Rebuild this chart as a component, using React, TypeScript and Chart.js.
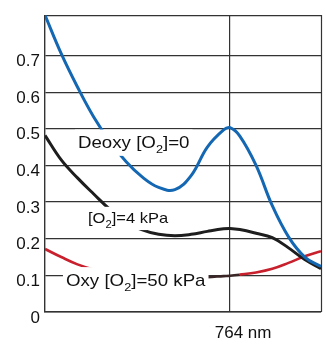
import React, { useEffect, useRef } from 'react';
import { Chart, registerables } from 'chart.js';

Chart.register(...registerables);

// Wavelength (nm)
const wavelengths = [650, 660, 670, 680, 690, 700, 710, 720, 730, 740, 750, 760, 764, 770, 780, 790, 800, 810, 820];
// Deoxy [O2]=0
const deoxy = [0.81, 0.705, 0.614, 0.532, 0.465, 0.41, 0.368, 0.34, 0.334, 0.372, 0.45, 0.497, 0.503, 0.48, 0.4, 0.29, 0.205, 0.15, 0.124];
// [O2]=4 kPa
const lowO2 = [0.482, 0.415, 0.366, 0.322, 0.28, 0.248, 0.224, 0.212, 0.208, 0.212, 0.22, 0.227, 0.228, 0.225, 0.215, 0.203, 0.175, 0.143, 0.118];
// Oxy [O2]=50 kPa
const oxy = [0.172, 0.15, 0.13, 0.116, 0.106, 0.1, 0.097, 0.095, 0.094, 0.094, 0.095, 0.098, 0.099, 0.102, 0.108, 0.118, 0.134, 0.152, 0.166];

const yTickValues = [0, 0.1, 0.2, 0.3, 0.4, 0.5, 0.6, 0.7];
const xTickValues = [764];
const xTickLabels = ['764 nm'];

type Part = { text: string; sub?: boolean };
const labelParts: Part[][] = [
  [{ text: 'Deoxy [O' }, { text: '2', sub: true }, { text: ']=0' }],
  [{ text: '[O' }, { text: '2', sub: true }, { text: ']=4 kPa' }],
  [{ text: 'Oxy [O' }, { text: '2', sub: true }, { text: ']=50 kPa' }],
];
const labelNm = [670.3, 676.5, 662.9];
const labelVal = [0.447, 0.242, 0.0715];
const labelSize = [17, 15, 17];

const FONT = "'Liberation Sans', Arial, sans-serif";
const GRID = '#333333';

function drawParts(ctx: CanvasRenderingContext2D, parts: Part[], fs: number, draw: boolean) {
  let cx = 0;
  for (const p of parts) {
    const size = p.sub ? fs * 0.68 : fs;
    ctx.font = `${size}px ${FONT}`;
    if (draw) ctx.fillText(p.text, cx, p.sub ? fs * 0.28 : 0);
    cx += ctx.measureText(p.text).width;
  }
  return cx;
}

const framePlugin = {
  id: 'frame',
  beforeDatasetsDraw(chart: any) {
    const { ctx, chartArea } = chart;
    ctx.save();
    ctx.strokeStyle = GRID;
    ctx.lineWidth = 1.2;
    ctx.beginPath();
    ctx.moveTo(chartArea.left, chartArea.top + 0.5);
    ctx.lineTo(chartArea.right + 0.5, chartArea.top + 0.5);
    ctx.lineTo(chartArea.right + 0.5, chartArea.bottom);
    ctx.stroke();
    ctx.restore();
  },
  afterDatasetsDraw(chart: any) {
    const { ctx } = chart;
    const xs = chart.scales.x;
    const ys = chart.scales.y;
    const scaleX = 1.1;
    labelParts.forEach((parts, i) => {
      const fs = labelSize[i];
      const x = xs.getPixelForValue(labelNm[i]);
      const base = ys.getPixelForValue(labelVal[i]);
      ctx.save();
      ctx.textBaseline = 'alphabetic';
      ctx.textAlign = 'left';
      const w = drawParts(ctx, parts, fs, false) * scaleX;
      ctx.fillStyle = '#ffffff';
      ctx.fillRect(x - 3, base - fs * 1.1, w + 6, fs * 1.55);
      ctx.translate(x, base);
      ctx.scale(scaleX, 1);
      ctx.fillStyle = '#111111';
      drawParts(ctx, parts, fs, true);
      ctx.restore();
    });
  },
};

export default function App() {
  const ref = useRef<HTMLCanvasElement>(null);
  useEffect(() => {
    document.body.style.margin = '0';
    const ctx = ref.current!.getContext('2d')!;
    const mk = (d: number[]) => wavelengths.map((x, i) => ({ x, y: d[i] }));
    const chart = new Chart(ctx, {
      type: 'line',
      data: {
        datasets: [
          {
            data: mk(deoxy),
            borderColor: '#1467b2',
            borderWidth: 3,
            pointRadius: 0,
            tension: 0.4,
          },
          {
            data: mk(lowO2),
            borderColor: '#1e1e1e',
            borderWidth: 3,
            pointRadius: 0,
            tension: 0.4,
          },
          {
            data: mk(oxy),
            borderColor: '#c8202c',
            borderWidth: 2.6,
            pointRadius: 0,
            tension: 0.4,
            segment: {
              borderColor: (c: any) =>
                c.p0.parsed.x >= 745 && c.p1.parsed.x <= 775 ? '#3a2626' : '#c8202c',
            },
          },
        ],
      },
      options: {
        animation: false,
        responsive: false,
        devicePixelRatio: 1,
        layout: { padding: { top: 6, right: 5, left: 0, bottom: 0 } },
        plugins: { legend: { display: false }, tooltip: { enabled: false } },
        scales: {
          x: {
            type: 'linear',
            min: 650,
            max: 820,
            afterBuildTicks: (axis: any) => {
              axis.ticks = xTickValues.map((v) => ({ value: v }));
            },
            afterFit: (axis: any) => {
              axis.height = 35;
            },
            grid: { color: GRID, lineWidth: 1.2, drawTicks: false },
            border: { color: GRID, width: 1.4 },
            ticks: {
              font: { family: FONT, size: 17 },
              color: '#111111',
              padding: 11,
              labelOffset: 13,
              maxRotation: 0,
              callback: (v: any) => xTickLabels[xTickValues.indexOf(Number(v))] ?? '',
            },
          },
          y: {
            min: 0,
            max: 0.81,
            afterBuildTicks: (axis: any) => {
              axis.ticks = yTickValues.map((v) => ({ value: v }));
            },
            afterFit: (axis: any) => {
              axis.width = 45;
            },
            grid: { color: GRID, lineWidth: 1.2, drawTicks: false },
            border: { color: GRID, width: 1.4 },
            ticks: {
              font: { family: FONT, size: 17 },
              color: '#111111',
              padding: 5,
              labelOffset: 6,
              callback: (v: any) => (Number(v) === 0 ? '0' : Number(v).toFixed(1)),
            },
          },
        },
      },
      plugins: [framePlugin],
    } as any);
    return () => chart.destroy();
  }, []);
  return (
    <div style={{ width: 326, height: 347, background: '#fff' }}>
      <canvas ref={ref} width={326} height={347} />
    </div>
  );
}
